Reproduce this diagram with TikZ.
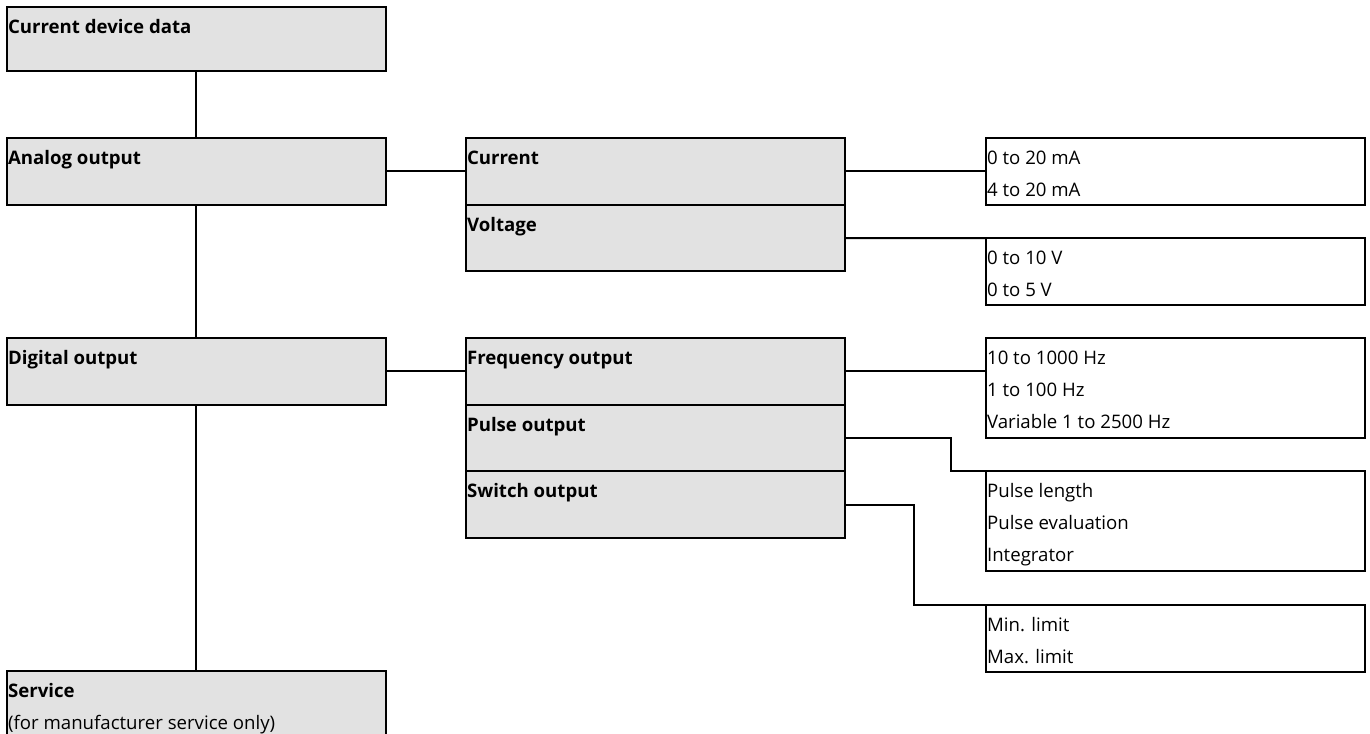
\documentclass[tikz,border=0pt]{standalone}
\usepackage{fontspec}
\setmainfont{Open Sans}
\usetikzlibrary{calc}
\definecolor{boxgray}{RGB}{226,226,226}

\begin{document}
\begin{tikzpicture}[x=0.02cm, y=-0.02cm]% menu tree
    \tikzstyle{boxline} = [draw, line width=0.04cm, inner sep=0, outer sep=0, minimum width=7.58cm, anchor=north west]
    \tikzstyle{menu} = [boxline, fill=boxgray, minimum height=1.333cm]
    \tikzstyle{valbox} = [boxline, minimum height={#1}]
    \tikzstyle{txt} = [label={[anchor=base west, inner sep=0, xshift=0.015cm, yshift=-0.53cm, font=\fontsize{10.6}{18.2}\selectfont]north west:\parbox[t]{7cm}{#1}}]
    \tikzstyle{head} = [txt={\bfseries #1}]
    \tikzstyle{wire} = [line width=0.04cm]
    \useasboundingbox (0, 0) rectangle (1370, 734);
    % left column
    \node[menu, minimum height=1.28cm, head=Current device data] (cdd) at (7, 7) {};
    \node[menu, head=Analog output] (ana) at (7, 138) {};
    \node[menu, head=Digital output] (dig) at (7, 338) {};
    \node[menu, minimum height=3cm, txt={\textbf{Service}\\(for manufacturer service only)}] (srv) at (7, 671) {};
    % middle column
    \node[menu, head=Current] (cur) at (466, 138) {};
    \node[menu, head=Voltage] (vol) at (466, 204.7) {};
    \node[menu, head=Frequency output] (frq) at (466, 338) {};
    \node[menu, head=Pulse output] (pls) at (466, 404.7) {};
    \node[menu, head=Switch output] (swt) at (466, 471.3) {};
    % right column
    \node[valbox=1.333cm, txt={0 to 20 mA\\4 to 20 mA}] (vcur) at (986, 138) {};
    \node[valbox=1.333cm, txt={0 to 10 V\\0 to 5 V}] (vvol) at (986, 238) {};
    \node[valbox=2cm, txt={10 to 1000 Hz\\1 to 100 Hz\\Variable 1 to 2500 Hz}] (vfrq) at (986, 338) {};
    \node[valbox=2cm, txt={Pulse length\\Pulse evaluation\\Integrator}] (vpls) at (986, 471.3) {};
    \node[valbox=1.333cm, txt={Min. limit\\Max. limit}] (vswt) at (986, 605) {};
    % connectors
    \draw[wire] (cdd) -- (ana);
    \draw[wire] (ana) -- (dig);
    \draw[wire] (dig) -- (srv);
    \draw[wire] (ana) -- (cur);
    \draw[wire] (dig) -- (frq);
    \draw[wire] (cur) -- (vcur);
    \draw[wire] (vol.east) -- (vvol.north west);
    \draw[wire] (frq.east) -- (frq.east -| vfrq.west);
    \draw[wire] (pls.east) -- ++(106, 0) |- (vpls.north west);
    \draw[wire] (swt.east) -- ++(69, 0) |- (vswt.north west);
\end{tikzpicture}
\end{document}
